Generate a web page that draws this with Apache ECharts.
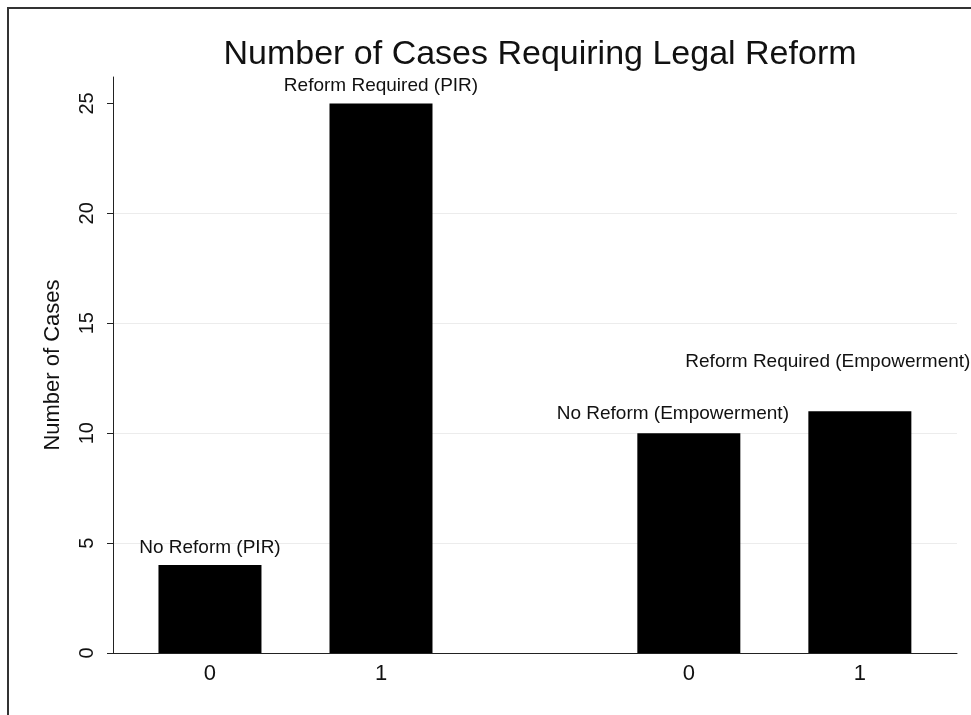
<!DOCTYPE html>
<html>
<head>
<meta charset="utf-8">
<title>Number of Cases Requiring Legal Reform</title>
<script src="https://cdn.jsdelivr.net/npm/echarts@6/dist/echarts.min.js"></script>
<style>
	html, body { margin: 0; padding: 0; background: #fff; }
	#chart { width: 971px; height: 715px; }
</style>
</head>
<body>
<div id="chart"></div>
<script>
// data
var groups = ['PIR', 'Empowerment'];
var levels = ['0', '1'];
var counts = [4, 25, 10, 11];
var barLabels = ['No Reform (PIR)', 'Reform Required (PIR)', 'No Reform (Empowerment)', 'Reform Required (Empowerment)'];
var yTicks = [0, 5, 10, 15, 20, 25];

(function()
{
	var FONT = '"Liberation Sans", Arial, Helvetica, sans-serif';
	var GROUP_STEP = 2.8;	// distance between first bars of the two groups

	// lay the bars out along the x axis: group offset + level index
	var xPos = [];
	var xNames = {};
	for (var g = 0; g < groups.length; g++)
	{
		for (var l = 0; l < levels.length; l++)
		{
			var x = g * GROUP_STEP + l;
			xPos.push(x);
			xNames[x.toFixed(2)] = levels[l];
		}
	}

	// label nudges, to sit the texts where the original puts them
	var labelStyle =
	[
		{ distance: 8, offset: [0, 0] },
		{ distance: 8, offset: [0, 0] },
		{ distance: 10, offset: [-16, 0] },
		{ distance: 40, offset: [-32, 0] }
	];

	var data = [];
	for (var i = 0; i < counts.length; i++)
	{
		data.push(
		{
			value: [xPos[i], counts[i]],
			label:
			{
				distance: labelStyle[i].distance,
				offset: labelStyle[i].offset
			}
		});
	}

	var chart = echarts.init(document.getElementById('chart'));

	var options =
	{
		backgroundColor: '#fff',
		animation: false,
		title:
		{
			text: 'Number of Cases Requiring Legal Reform',
			left: 535,
			top: 33,
			textAlign: 'center',
			textStyle: { fontFamily: FONT, fontSize: 34, fontWeight: 'normal', color: '#111' }
		},
		graphic:
		[
			{
				type: 'polyline',
				shape: { points: [[8, 715], [8, 8], [971, 8]] },
				style: { stroke: '#333', lineWidth: 2, fill: null }
			}
		],
		grid: { left: 113, right: 14, top: 77, bottom: 62 },
		xAxis:
		{
			type: 'value',
			min: -0.567,
			max: 4.368,
			axisLine: { show: true, onZero: false, lineStyle: { color: '#222', width: 1 } },
			axisTick: { show: false },
			splitLine: { show: false },
			axisLabel:
			{
				customValues: xPos,
				margin: 10,
				color: '#111',
				fontFamily: FONT,
				fontSize: 22,
				formatter: function(v) { return xNames[Number(v).toFixed(2)] || ''; }
			}
		},
		yAxis:
		{
			type: 'value',
			min: 0,
			max: 26.2,
			interval: 5,
			name: 'Number of Cases',
			nameLocation: 'middle',
			nameRotate: 90,
			nameGap: 49,
			nameTextStyle: { fontFamily: FONT, fontSize: 22, color: '#111' },
			axisLine: { show: true, onZero: false, lineStyle: { color: '#222', width: 1 } },
			axisTick: { show: true, length: 6, customValues: yTicks, lineStyle: { color: '#222' } },
			splitLine: { show: true, showMaxLine: false, lineStyle: { color: '#ececec', width: 1 } },
			axisLabel:
			{
				customValues: yTicks,
				rotate: 90,
				margin: 16,
				color: '#111',
				fontFamily: FONT,
				fontSize: 20
			}
		},
		series:
		[
			{
				name: 'Number of Cases',
				type: 'bar',
				barWidth: 103,
				itemStyle: { color: '#000' },
				label:
				{
					show: true,
					position: 'top',
					color: '#111',
					fontFamily: FONT,
					fontSize: 19,
					formatter: function(p) { return barLabels[p.dataIndex]; }
				},
				data: data
			}
		]
	};

	chart.setOption(options);
})();
</script>
</body>
</html>
